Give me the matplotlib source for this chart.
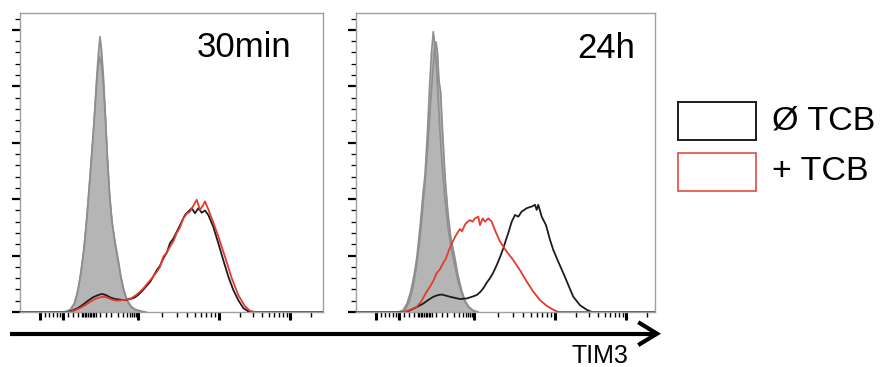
import numpy as np
import matplotlib
matplotlib.use('Agg')
import matplotlib.pyplot as plt
from matplotlib.lines import Line2D
from matplotlib.patches import Rectangle

plt.rcParams['font.family'] = ['Liberation Sans', 'DejaVu Sans']

# --- histogram traces (x: channel, y: % of max, arbitrary units) ---
# 30min: isotype controls (grey) and TIM3 stain
iso1a_x = [44, 50, 54, 57, 60, 63, 66, 69, 72, 74.5, 76.5, 78.5, 80, 81.5, 83.5, 85.5, 87.5, 89.5,
           92, 95, 98, 101, 104, 107, 111, 115, 120, 126]
iso1a_y = [0, 0.04, 0.14, 0.32, 0.6, 0.98, 1.5, 2.15, 2.85, 3.5, 4.1, 4.6, 4.88, 4.65, 4.15, 3.45, 2.7, 2.1,
           1.6, 1.25, 0.95, 0.62, 0.38, 0.22, 0.1, 0.05, 0.02, 0]
iso1b_x = [46, 51, 55, 58, 61, 64, 67, 70, 73, 75.5, 77.5, 79.5, 81.5, 83.5, 85.5, 87.5, 89.5, 92,
           95, 98, 101, 104, 107, 111, 115, 120, 125]
iso1b_y = [0, 0.05, 0.17, 0.38, 0.7, 1.12, 1.7, 2.4, 3.1, 3.75, 4.25, 4.52, 4.4, 4.0, 3.4, 2.7, 2.1, 1.6,
           1.2, 0.9, 0.6, 0.36, 0.2, 0.09, 0.04, 0.01, 0]
ctl1_x = [0, 48, 53, 58, 63, 68, 73, 78, 82, 86, 90, 95, 100, 105, 110, 114, 118, 122, 126, 130, 133,
          136.7, 140, 143.3, 146.7, 150, 153.3, 156.7, 159, 161.7, 165, 168.3, 171.7, 175, 178.3, 181.7,
          185, 188.3, 193.3, 198.3, 203.3, 208.3, 213.3, 218.3, 223.3, 228.3, 233, 303]
ctl1_y = [0, 0, 0.03, 0.07, 0.13, 0.2, 0.26, 0.3, 0.32, 0.3, 0.26, 0.23, 0.22, 0.21, 0.23, 0.25, 0.3,
          0.37, 0.45, 0.53, 0.62, 0.74, 0.82, 0.95, 1.05, 1.22, 1.3, 1.42, 1.5, 1.6, 1.72, 1.78, 1.84,
          1.75, 1.84, 1.76, 1.8, 1.72, 1.51, 1.22, 0.92, 0.63, 0.39, 0.21, 0.07, 0.01, 0, 0]
tcb1_x = [0, 50, 55, 60, 65, 70, 75, 80, 84, 88, 92, 97, 102, 107, 112, 116, 120, 124, 128, 132,
          136.7, 140, 143.3, 146.7, 150, 153.3, 156.7, 160, 163.3, 166.7, 170, 173.3, 176.7, 180,
          183.3, 185, 188.3, 193, 198.3, 205, 211.7, 218.3, 225, 230, 235, 303]
tcb1_y = [0, 0, 0.03, 0.07, 0.12, 0.18, 0.23, 0.26, 0.27, 0.25, 0.22, 0.2, 0.21, 0.22, 0.25, 0.3,
          0.36, 0.43, 0.52, 0.6, 0.71, 0.8, 0.98, 1.05, 1.16, 1.25, 1.4, 1.5, 1.66, 1.74, 1.78, 1.88,
          1.99, 1.81, 1.9, 1.96, 1.82, 1.6, 1.34, 0.98, 0.6, 0.3, 0.1, 0.02, 0, 0]

# 24h
iso2a_x = [42, 47, 51, 54.7, 58, 60.7, 64, 67, 69, 71.5, 73.3, 75.5, 77.3, 79, 81, 83, 85, 87, 89,
           92, 95, 99, 102, 105.7, 109, 113, 117, 122]
iso2a_y = [0, 0.03, 0.15, 0.36, 0.65, 0.95, 1.5, 2.1, 2.43, 3.2, 3.9, 4.6, 4.97, 4.7, 4.2, 3.5, 2.9,
           2.4, 2.0, 1.5, 1.15, 0.8, 0.55, 0.33, 0.18, 0.08, 0.02, 0]
iso2b_x = [44, 49, 53, 56.5, 60, 63, 66, 69, 72, 74.5, 77, 78.5, 80, 81.5, 83, 84.7, 86, 88, 89.5,
           92, 95, 99, 102, 105.7, 109, 113, 117, 122]
iso2b_y = [0, 0.04, 0.17, 0.4, 0.75, 1.15, 1.7, 2.3, 3.0, 3.7, 4.3, 4.65, 4.79, 4.6, 4.1, 3.9, 3.4,
           2.75, 2.3, 1.75, 1.3, 0.95, 0.65, 0.38, 0.2, 0.09, 0.03, 0]
ctl2_x = [0, 50, 54, 60, 67.3, 72, 77.3, 82, 85.7, 90, 94, 99, 104, 110.7, 116, 120.7, 124, 127.3,
          130.7, 134, 137.3, 140.7, 144, 147.3, 150, 152.3, 155.7, 159, 162.3, 165.7, 170.7, 175.7,
          179, 180.7, 182.3, 185.7, 190, 194, 197.3, 202.3, 207.3, 212.3, 217.3, 224, 230.7, 235.7, 299]
ctl2_y = [0, 0, 0.03, 0.08, 0.15, 0.21, 0.27, 0.3, 0.31, 0.29, 0.27, 0.25, 0.23, 0.24, 0.27, 0.3,
          0.35, 0.42, 0.52, 0.6, 0.7, 0.83, 0.97, 1.13, 1.28, 1.4, 1.6, 1.72, 1.69, 1.78, 1.84, 1.87,
          1.9, 1.81, 1.9, 1.69, 1.54, 1.28, 1.1, 0.89, 0.69, 0.48, 0.27, 0.12, 0.04, 0, 0]
tcb2_x = [0, 47, 53, 60.7, 65, 70.7, 74, 77.3, 80.7, 84, 87, 90, 93, 96, 99, 102, 104, 106, 109,
          111.5, 114, 116.5, 119, 122.3, 124, 126.7, 129, 132.3, 135.7, 139, 144, 150.7, 157.3, 164,
          170.7, 177.3, 184, 190.7, 197.3, 202.3, 299]
tcb2_y = [0, 0, 0.03, 0.09, 0.18, 0.36, 0.45, 0.55, 0.69, 0.76, 0.86, 0.95, 1.1, 1.22, 1.33, 1.42,
          1.47, 1.43, 1.55, 1.6, 1.63, 1.6, 1.66, 1.69, 1.54, 1.66, 1.6, 1.66, 1.6, 1.45, 1.25, 1.07,
          0.92, 0.74, 0.54, 0.36, 0.21, 0.11, 0.04, 0, 0]

panel_titles = ['30min', '24h']
legend_labels = ['Ø TCB', '+ TCB']
axis_label = 'TIM3'

GREY_FACE = '#b5b5b5'
GREY_EDGE = '#8e8e8e'
RED = '#e23b30'
BLACK = '#1c1c1c'


def decade(lo, hi):
    return [lo + (hi - lo) * np.log10(k) for k in range(2, 10)]


# logicle-style channel ticks
x_major = [20, 43, 118, 199, 270]
x_minor = ([25, 29, 33, 36.5, 39.5, 48.3, 53.3, 58.3]
           + list(np.arange(61.5, 76, 1.6)) + [80, 86]
           + decade(80, 118) + decade(118, 199) + decade(199, 270) + [291.4])

fig = plt.figure(figsize=(8.82, 3.67), dpi=100)
W, H = 882., 367.

panels = [
    (20, 303, iso1a_x, iso1a_y, iso1b_x, iso1b_y, ctl1_x, ctl1_y, tcb1_x, tcb1_y, 271, 4.52),
    (356, 299, iso2a_x, iso2a_y, iso2b_x, iso2b_y, ctl2_x, ctl2_y, tcb2_x, tcb2_y, 279, 4.5),
]

for i, (left, width, ax_, ay_, bx_, by_, cx, cy, tx, ty, tpos, typos) in enumerate(panels):
    ax = fig.add_axes([left / W, (H - 312) / H, width / W, 299 / H])
    ax.fill_between(bx_, by_, color=GREY_FACE, lw=0, zorder=1)
    ax.fill_between(ax_, ay_, color=GREY_FACE, lw=0, zorder=1)
    ax.plot(bx_, by_, color=GREY_EDGE, lw=1.2, zorder=2)
    ax.plot(ax_, ay_, color=GREY_EDGE, lw=1.2, zorder=2)
    ax.plot(cx, cy, color=BLACK, lw=1.3, zorder=3)
    ax.plot(tx, ty, color=RED, lw=1.3, zorder=4)
    ax.set_xlim(0, width)
    ax.set_ylim(0, 5.3)
    for s in ax.spines.values():
        s.set_color('#a0a0a0')
        s.set_linewidth(1.0)
    ax.set_xticks(x_major)
    ax.set_xticks(x_minor, minor=True)
    ax.set_yticks(np.arange(0, 6))
    ax.set_yticks(np.arange(0.2, 5.3, 0.2), minor=True)
    ax.tick_params(which='major', direction='out', length=6, width=2.2, color='black',
                   labelbottom=False, labelleft=False)
    ax.tick_params(which='minor', direction='out', length=3.5, width=1.0, color='black')
    ax.tick_params(axis='y', which='major', length=6, width=1.6)
    ax.tick_params(axis='y', which='minor', length=3.5, width=0.9)
    ax.text(tpos, typos, panel_titles[i], ha='right', va='baseline', fontsize=25)

# axis arrow under both panels
fig.add_artist(Line2D([10 / W, 655 / W], [1 - 333.7 / H, 1 - 333.7 / H],
                      transform=fig.transFigure, color='black', lw=3.0,
                      solid_capstyle='butt'))
fig.add_artist(Line2D([640 / W, 657 / W, 640 / W], [1 - 323.3 / H, 1 - 333.7 / H, 1 - 344 / H],
                      transform=fig.transFigure, color='black', lw=3.0,
                      solid_joinstyle='miter'))
fig.text(600 / W, 1 - 356 / H, axis_label, ha='center', va='center', fontsize=18)

# legend boxes
for j, (col, lw) in enumerate([(BLACK, 1.4), (RED, 1.1)]):
    y0 = 101.7 + j * 51
    fig.add_artist(Rectangle((678.3 / W, 1 - (y0 + 38.3) / H), 77.4 / W, 38.3 / H,
                             transform=fig.transFigure, fill=False, edgecolor=col, lw=lw))
    fig.text(771.7 / W, 1 - (y0 + 19) / H, legend_labels[j], ha='left', va='center',
             fontsize=24.5)

plt.savefig('out.png', dpi=100)
